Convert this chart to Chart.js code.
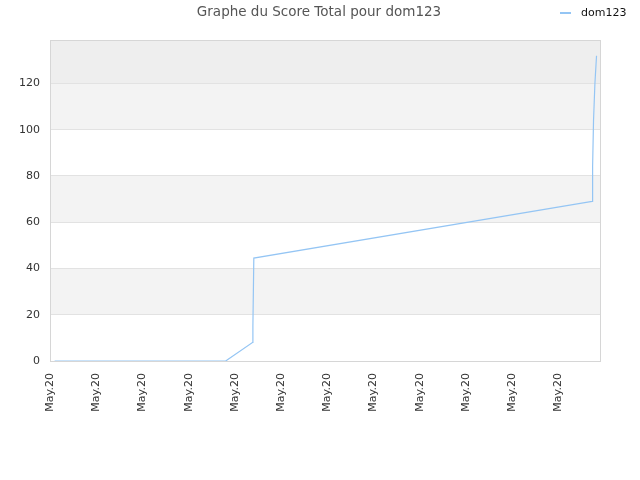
<!DOCTYPE html>
<html>
<head>
<meta charset="utf-8">
<script src="https://cdn.jsdelivr.net/npm/chart.js@4/dist/chart.umd.min.js"></script>
<style>
  html, body { margin: 0; padding: 0; background: #fff; }
  #wrap { width: 640px; height: 480px; }
</style>
</head>
<body>
<div id="wrap"><canvas id="scoreChart"></canvas></div>
<script>
// Données
const seriesName = 'dom123';
const chartTitle = 'Graphe du Score Total pour dom123';
const pointIndex = [1, 38, 43.8, 43.9, 44.1, 117.3, 117.4, 117.6, 117.9, 118.25];
const scores = [0, 0, 8, 15, 44.5, 69, 84, 104, 120, 132];
const tickLabel = 'May.20';
const xStep = 10;
const xMax = 119;
const yMax = 138.8;
const yStep = 20;

const lineColor = '#94c5f4';
const fontFamily = "'DejaVu Sans', Verdana, sans-serif";

// Bandes de fond alternées, cadre, titre et légende
const bandsPlugin = {
    id: 'bands',
    beforeDraw(chart) {
        const { ctx, chartArea: a, scales: { y } } = chart;
        ctx.save();
        for (let v = 0; v < yMax; v += yStep) {
            const top = y.getPixelForValue(Math.min(v + yStep, yMax));
            const bottom = y.getPixelForValue(v);
            const idx = v / yStep;
            let color = null;
            if (v + yStep > yMax) color = '#eeeeee';
            else if (idx % 2 === 1) color = '#f3f3f3';
            if (color) {
                ctx.fillStyle = color;
                ctx.fillRect(a.left, top, a.right - a.left, bottom - top);
            }
        }
        ctx.restore();
    },
    afterDraw(chart) {
        const { ctx, chartArea: a } = chart;
        ctx.save();
        // cadre
        ctx.strokeStyle = '#d6d6d6';
        ctx.lineWidth = 1;
        ctx.strokeRect(a.left + 0.5, a.top + 0.5, a.right - a.left, a.bottom - a.top);
        // titre
        ctx.fillStyle = '#555';
        ctx.font = '13.5px ' + fontFamily;
        ctx.textAlign = 'center';
        ctx.textBaseline = 'middle';
        ctx.fillText(chartTitle, 319, 12);
        // légende
        ctx.strokeStyle = lineColor;
        ctx.lineWidth = 2;
        ctx.beginPath();
        ctx.moveTo(560, 13);
        ctx.lineTo(571, 13);
        ctx.stroke();
        ctx.fillStyle = '#111';
        ctx.font = '11px ' + fontFamily;
        ctx.textAlign = 'left';
        ctx.fillText(seriesName, 581, 13);
        ctx.restore();
    }
};

const ctx = document.getElementById('scoreChart').getContext('2d');
const scoreChart = new Chart(ctx, {
    type: 'line',
    data: {
        datasets: [{
            label: seriesName,
            data: pointIndex.map((x, i) => ({ x: x, y: scores[i] })),
            borderColor: lineColor,
            borderWidth: 1.2,
            pointRadius: 0,
            tension: 0,
            fill: false
        }]
    },
    options: {
        responsive: true,
        maintainAspectRatio: false,
        animation: false,
        layout: { padding: { left: 0, right: 40, top: 40, bottom: 0 } },
        plugins: {
            legend: { display: false },
            tooltip: { enabled: false },
            title: { display: false }
        },
        scales: {
            x: {
                type: 'linear',
                min: 0,
                max: xMax,
                afterBuildTicks(scale) {
                    scale.ticks = scale.ticks.filter(t => t.value % xStep === 0);
                },
                afterFit(scale) { scale.height = 119; },
                grid: { display: false, drawTicks: false },
                border: { display: false },
                ticks: {
                    stepSize: xStep,
                    autoSkip: false,
                    minRotation: 90,
                    maxRotation: 90,
                    padding: 12,
                    color: '#333',
                    font: { family: fontFamily, size: 11 },
                    callback: () => tickLabel
                }
            },
            y: {
                min: 0,
                max: yMax,
                afterBuildTicks(scale) {
                    scale.ticks = scale.ticks.filter(t => t.value % yStep === 0);
                },
                afterFit(scale) { scale.width = 50; },
                grid: { color: '#e2e2e2', drawTicks: false },
                border: { display: false },
                ticks: {
                    stepSize: yStep,
                    padding: 10,
                    color: '#333',
                    font: { family: fontFamily, size: 11 }
                }
            }
        }
    },
    plugins: [bandsPlugin]
});
</script>
</body>
</html>
